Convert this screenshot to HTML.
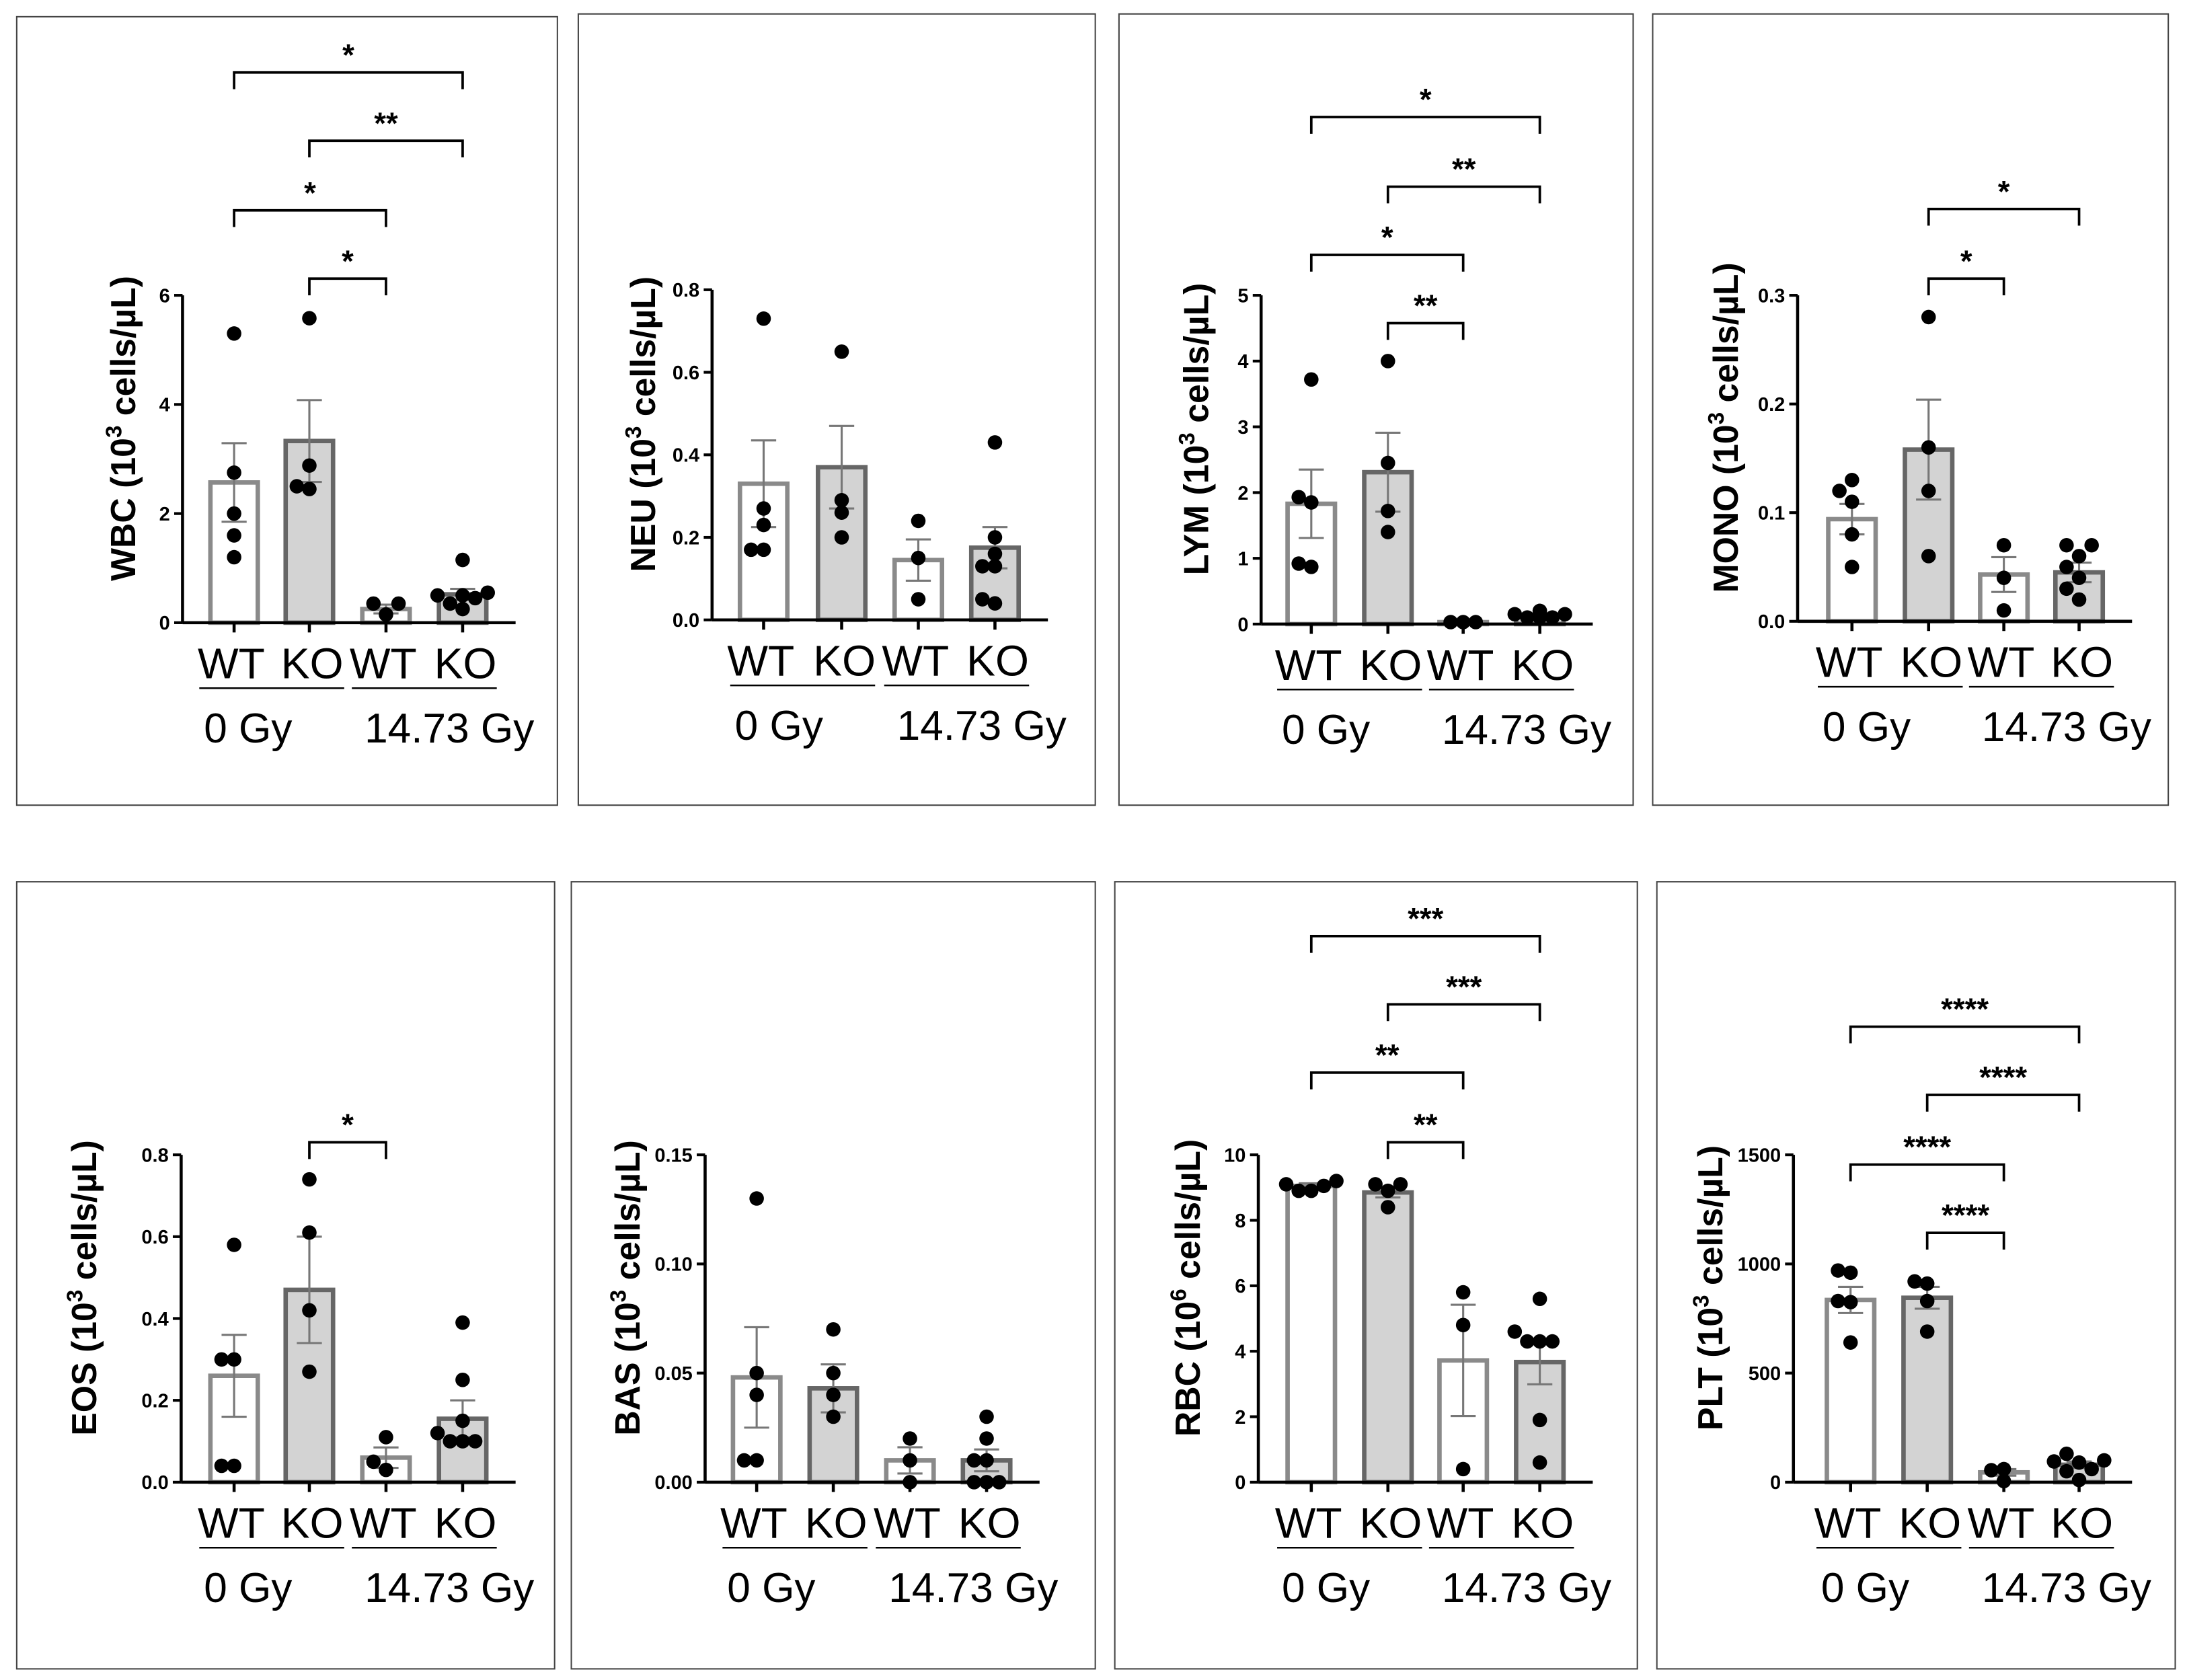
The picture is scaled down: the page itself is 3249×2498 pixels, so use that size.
<!DOCTYPE html>
<html><head><meta charset="utf-8"><style>html,body{margin:0;padding:0;background:#fff}svg{display:block}</style></head>
<body>
<svg id="fig" xmlns="http://www.w3.org/2000/svg" width="3249" height="2498" viewBox="0 0 1568 1206" preserveAspectRatio="none" font-family="Liberation Sans, Arial, sans-serif"></svg>
<script>
// ---- data ----
const groups = ["WT","KO","WT","KO"];
const doses = ["0 Gy","14.73 Gy"];
const wbcMeans=[2.57,3.33,0.25,0.52], wbcSem=[0.72,0.75,0.08,0.1];
const wbcPts=[[5.3,2.75,2.0,1.6,1.2],[5.58,2.88,2.45,2.5],[0.15,0.35,0.35],[1.15,0.35,0.5,0.45,0.5,0.55,0.25]];
const neuMeans=[0.33,0.37,0.145,0.175], neuSem=[0.105,0.1,0.05,0.05];
const neuPts=[[0.73,0.27,0.17,0.17,0.23],[0.65,0.29,0.2,0.26],[0.24,0.15,0.05],[0.43,0.2,0.16,0.13,0.13,0.05,0.04]];
const lymMeans=[1.83,2.31,0.03,0.12], lymSem=[0.52,0.6,0.01,0.03];
const lymPts=[[3.72,1.93,1.85,0.87,0.92],[4.0,2.45,1.72,1.4],[0.03,0.03,0.03],[0.2,0.15,0.1,0.1,0.1,0.15,0.2]];
const monoMeans=[0.094,0.158,0.043,0.045], monoSem=[0.014,0.046,0.016,0.009];
const monoPts=[[0.13,0.12,0.11,0.08,0.05],[0.28,0.16,0.12,0.06],[0.07,0.04,0.01],[0.07,0.07,0.06,0.05,0.04,0.03,0.02]];
const eosMeans=[0.26,0.47,0.06,0.155], eosSem=[0.1,0.13,0.025,0.045];
const eosPts=[[0.58,0.3,0.3,0.04,0.04],[0.74,0.61,0.42,0.27],[0.11,0.05,0.03],[0.39,0.25,0.15,0.12,0.1,0.1,0.1]];
const basMeans=[0.048,0.043,0.01,0.01], basSem=[0.023,0.011,0.006,0.005];
const basPts=[[0.13,0.05,0.04,0.01,0.01],[0.07,0.05,0.04,0.03],[0.02,0.01,0.0],[0.03,0.02,0.01,0.01,0.0,0.0,0.0]];
const rbcMeans=[9.05,8.85,3.72,3.67], rbcSem=[0.08,0.15,1.7,0.68];
const rbcPts=[[9.2,9.1,9.05,8.9,8.9],[9.1,9.1,8.9,8.4],[5.8,4.8,0.4],[5.6,4.6,4.3,4.3,4.3,1.9,0.6]];
const pltMeans=[835,845,45,80], pltSem=[60,50,15,15];
const pltPts=[[970,960,830,825,640],[920,910,830,690],[60,55,5],[130,100,95,90,60,50,10]];
const wbcTicks=[0,2,4,6], neuTicks=[0,0.2,0.4,0.6,0.8], lymTicks=[0,1,2,3,4,5], monoTicks=[0,0.1,0.2,0.3];
const eosTicks=[0,0.2,0.4,0.6,0.8], basTicks=[0,0.05,0.1,0.15], rbcTicks=[0,2,4,6,8,10], pltTicks=[0,500,1000,1500];
const wbcTickLabels=["0","2","4","6"], neuTickLabels=["0.0","0.2","0.4","0.6","0.8"], lymTickLabels=["0","1","2","3","4","5"], monoTickLabels=["0.0","0.1","0.2","0.3"];
const eosTickLabels=["0.0","0.2","0.4","0.6","0.8"], basTickLabels=["0.00","0.05","0.10","0.15"], rbcTickLabels=["0","2","4","6","8","10"], pltTickLabels=["0","500","1000","1500"];
const wbcSig=[[0,3,"*"],[1,3,"**"],[0,2,"*"],[1,2,"*"]];
const lymSig=[[0,3,"*"],[1,3,"**"],[0,2,"*"],[1,2,"**"]];
const monoSig=[[1,3,"*"],[1,2,"*"]];
const eosSig=[[1,2,"*"]];
const rbcSig=[[0,3,"***"],[1,3,"***"],[0,2,"**"],[1,2,"**"]];
const pltSig=[[0,3,"****"],[1,3,"****"],[0,2,"****"],[1,2,"****"]];

const NS="http://www.w3.org/2000/svg";
const svg=document.getElementById('fig');
function mk(tag,attrs,parent){const e=document.createElementNS(NS,tag);for(const k in attrs)e.setAttribute(k,attrs[k]);(parent||svg).appendChild(e);return e;}

const panels=[
 {name:"wbc",label:"WBC",exp:"3",box:[12,12,388,566],ax:131,top:212,bot:447,xs:[168,222,277,332],max:6,m:wbcMeans,s:wbcSem,p:wbcPts,t:wbcTicks,tl:wbcTickLabels,sig:wbcSig,sigY:[52,101,151,200],tx:88},
 {name:"neu",label:"NEU",exp:"3",box:[415,10,371,568],ax:511,top:208,bot:445,xs:[548,604,659,714],max:0.8,m:neuMeans,s:neuSem,p:neuPts,t:neuTicks,tl:neuTickLabels,sig:[],sigY:[],tx:461},
 {name:"lym",label:"LYM",exp:"3",box:[803,10,369,568],ax:905,top:212,bot:448,xs:[941,996,1050,1105],max:5,m:lymMeans,s:lymSem,p:lymPts,t:lymTicks,tl:lymTickLabels,sig:lymSig,sigY:[84,134,183,232],tx:858},
 {name:"mono",label:"MONO",exp:"3",box:[1186,10,370,568],ax:1290,top:212,bot:446,xs:[1329,1384,1438,1492],max:0.3,m:monoMeans,s:monoSem,p:monoPts,t:monoTicks,tl:monoTickLabels,sig:monoSig,sigY:[150,200],tx:1238},
 {name:"eos",label:"EOS",exp:"3",box:[12,633,386,565],ax:130,top:829,bot:1064,xs:[168,222,277,332],max:0.8,m:eosMeans,s:eosSem,p:eosPts,t:eosTicks,tl:eosTickLabels,sig:eosSig,sigY:[820],tx:60},
 {name:"bas",label:"BAS",exp:"3",box:[410,633,376,565],ax:506,top:829,bot:1064,xs:[543,598,653,708],max:0.15,m:basMeans,s:basSem,p:basPts,t:basTicks,tl:basTickLabels,sig:[],sigY:[],tx:450},
 {name:"rbc",label:"RBC",exp:"6",box:[800,633,375,565],ax:903,top:829,bot:1064,xs:[941,996,1050,1105],max:10,m:rbcMeans,s:rbcSem,p:rbcPts,t:rbcTicks,tl:rbcTickLabels,sig:rbcSig,sigY:[672,721,770,820],tx:852},
 {name:"plt",label:"PLT",exp:"3",box:[1189,633,372,565],ax:1287,top:829,bot:1064,xs:[1328,1383,1438,1492],max:1500,m:pltMeans,s:pltSem,p:pltPts,t:pltTicks,tl:pltTickLabels,sig:pltSig,sigY:[737,786,836,885],tx:1227}
];

function swarm(ys,cx){
 const placed=[];const order=ys.map((v,i)=>i).sort((a,b)=>ys[b]-ys[a]);
 const out=new Array(ys.length);
 const cand=[0,-9,9,-18,18,-5,5,-14,14];
 order.forEach(i=>{
  for(const o of cand){
   const ok=placed.every(p=>Math.hypot(p[0]-(cx+o),p[1]-ys[i])>=8.5);
   if(ok){out[i]=cx+o;placed.push([cx+o,ys[i]]);return;}
  }
  out[i]=cx;placed.push([cx,ys[i]]);
 });
 return out;
}

panels.forEach(P=>{
 const g=mk('g',{});
 
 
 const fr=mk('rect',{x:P.box[0],y:P.box[1],width:P.box[2],height:P.box[3],fill:'#fff',stroke:'#444','stroke-width':1},g);
 
 
 const y=v=>P.bot-(v/P.max)*(P.bot-P.top);
 const x0=P.ax, xEnd=P.xs[3]+38;
 P.m.forEach((v,i)=>{
  const ko=i%2===1;
  const b=mk('rect',{x:P.xs[i]-17,y:y(v),width:34,height:P.bot-y(v),fill:ko?'#d3d3d3':'#fff',stroke:ko?'#666':'#8a8a8a','stroke-width':3.2},g);
  
  
 });
 P.m.forEach((v,i)=>{
  const hi=y(v+P.s[i]), lo=y(Math.max(0,v-P.s[i]));
  const e=mk('path',{d:`M${P.xs[i]},${hi}V${lo}M${P.xs[i]-9},${hi}H${P.xs[i]+9}M${P.xs[i]-9},${lo}H${P.xs[i]+9}`,stroke:'#777','stroke-width':1.5,fill:'none'},g);
  
  
 });
 P.p.forEach((arr,i)=>{
  const ys=arr.map(v=>y(v));
  const xsP=swarm(ys,P.xs[i]);
  arr.forEach((v,k)=>{
   const c=mk('circle',{cx:xsP[k],cy:ys[k],r:5.2,fill:'#000'},g);
   
   
  });
 });
 const ya=mk('path',{d:`M${x0},${P.top}V${P.bot}`,stroke:'#000','stroke-width':2.2,fill:'none'},g);
 
 
 const xa=mk('path',{d:`M${x0},${P.bot}H${xEnd}`+P.xs.map(xx=>`M${xx},${P.bot}V${P.bot+7}`).join(''),stroke:'#000','stroke-width':2.2,fill:'none'},g);
 
 
 P.t.forEach((tv,k)=>{
  mk('path',{d:`M${x0-6},${y(tv)}H${x0}`,stroke:'#000','stroke-width':2},g);
  const t=mk('text',{x:x0-9,y:y(tv)+5,'text-anchor':'end','font-size':14,'font-weight':'bold'},g);
  t.textContent=P.tl[k];
  
  
 });
 const cy=(P.top+P.bot)/2-22;
 const tt=mk('text',{x:0,y:0,transform:`translate(${P.tx+9},${cy}) rotate(-90)`,'text-anchor':'middle','font-size':25,'font-weight':'bold'},g);
 
 
 const s1=mk('tspan',{},tt); s1.textContent=P.label+' (10';
 const s2=mk('tspan',{'font-size':16,dy:-10},tt); s2.textContent=P.exp;
 const s3=mk('tspan',{dy:10},tt); s3.textContent=' cells/\u00B5L)';
 const lb=P.bot+40;
 P.xs.forEach((xx,i)=>{
  const l=mk('text',{x:xx+(i%2===0?-2:2),y:lb,'text-anchor':'middle','font-size':31},g);
  l.textContent=groups[i];
  
  
 });
 const lx=[(P.xs[0]+P.xs[1])/2,(P.xs[2]+P.xs[3])/2];
 lx.forEach((cx,j)=>{
  const u=mk('path',{d:`M${cx-52},${lb+7}H${cx+52}`,stroke:'#000','stroke-width':1.2},g);
  
  
  const d=mk('text',{x:cx+(j===1?18:-17),y:lb+46,'text-anchor':'middle','font-size':30},g);
  d.textContent=doses[j];
  
  
 });
 P.sig.forEach((s,k)=>{
  const yy=P.sigY[k], a=P.xs[s[0]], b=P.xs[s[1]];
  const br=mk('path',{d:`M${a},${yy+12}V${yy}H${b}V${yy+12}`,stroke:'#000','stroke-width':1.8,fill:'none'},g);
  
  
  const st=mk('text',{x:(a+b)/2,y:yy-5,'text-anchor':'middle','font-size':22,'font-weight':'bold'},g);
  st.textContent=s[2];
  
  
 });
});
</script>
</body></html>
